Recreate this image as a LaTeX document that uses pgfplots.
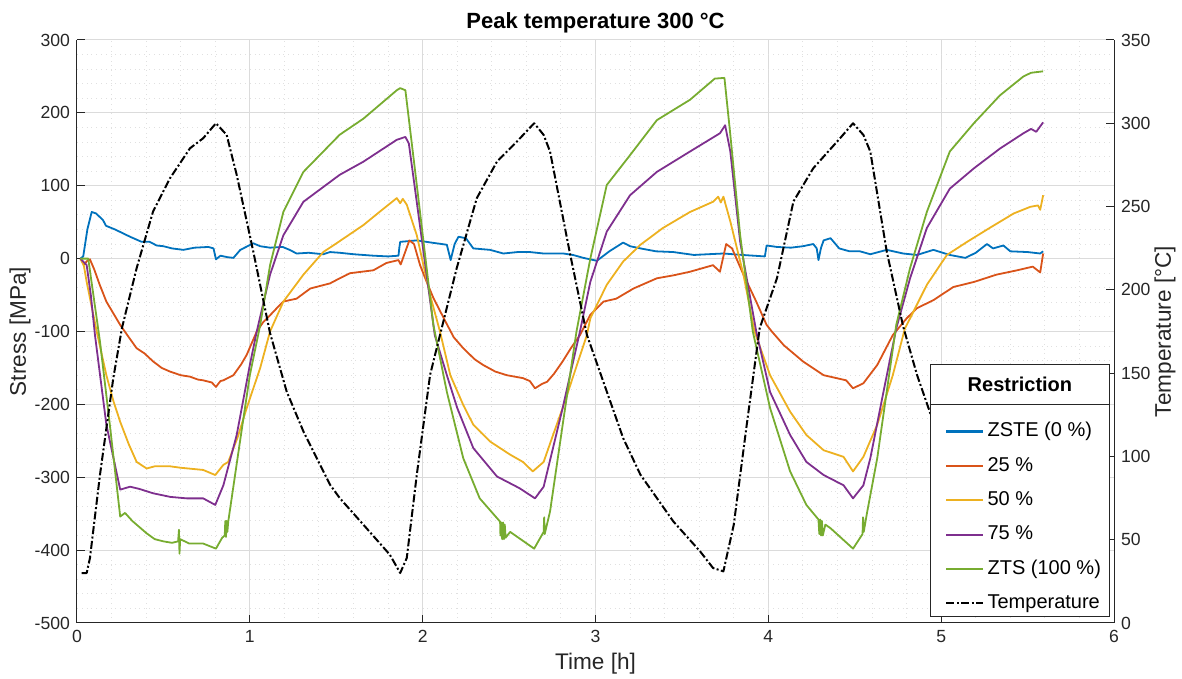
\documentclass[border=0pt]{standalone}
\usepackage{fontspec}
\setmainfont{Liberation Sans}
\usepackage{pgfplots}
\pgfplotsset{compat=1.18}
\usetikzlibrary{calc}

\definecolor{mBlue}{RGB}{0,114,189}
\definecolor{mOrange}{RGB}{217,83,25}
\definecolor{mYellow}{RGB}{237,177,32}
\definecolor{mPurple}{RGB}{126,47,142}
\definecolor{mGreen}{RGB}{119,172,48}
\definecolor{axgray}{RGB}{38,38,38}

\pgfplotsset{
  common/.style={
    scale only axis, width=518.5pt, height=291.5pt,
    xmin=0, xmax=6,
    tick align=inside, major tick length=4pt, minor tick length=0pt,
    tick style={draw=axgray, line width=0.5pt},
    axis line style={draw=axgray, line width=0.5pt},
    ticklabel style={font=\fontsize{8.8}{10}\selectfont, text=axgray},
    label style={font=\fontsize{11.3}{13}\selectfont, text=axgray},
    /pgf/number format/assume math mode=true,
    every axis plot/.append style={line join=round, line width=0.9pt},
  },
}

\begin{document}
\begin{tikzpicture}
\begin{axis}[
  common, name=main,
  ymin=-500, ymax=300,
  xtick={0,1,...,6}, ytick={-500,-400,...,300},
  minor x tick num=4, minor y tick num=4,
  grid=both,
  major grid style={draw=black!14, line width=0.5pt},
  minor grid style={draw=black!12, dotted, line width=0.5pt},
  axis x line*=bottom, axis y line*=left,
  xlabel={Time [h]}, ylabel={Stress [MPa]},
  xlabel style={at={(axis description cs:0.5,-0.0703)}, anchor=center},
  ylabel style={at={(axis description cs:-0.055,0.5)}, anchor=center},
  title={Peak temperature 300 °C},
  title style={font=\bfseries\fontsize{11}{13}\selectfont, at={(axis description cs:0.5,1.009)}, anchor=center},
]
% ZSTE (0 %)
\addplot[mBlue] coordinates {
(0.02,0) (0.036,3) (0.06,40) (0.085,64) (0.11,62) (0.15,53) (0.168,45) (0.22,40)
(0.307,30) (0.374,23) (0.42,23) (0.461,18) (0.5,17) (0.55,14) (0.615,12) (0.68,15)
(0.76,16) (0.79,14) (0.804,-1) (0.83,4) (0.87,2) (0.905,1) (0.945,12) (1.02,21)
(1.06,17) (1.117,15) (1.19,16) (1.23,12) (1.271,7) (1.34,8) (1.425,6) (1.464,9)
(1.52,8) (1.6,6) (1.715,4) (1.8,3) (1.86,4) (1.865,15) (1.87,23) (1.966,25)
(2.05,22) (2.14,19) (2.162,-2) (2.185,20) (2.207,30) (2.25,28) (2.293,14) (2.39,12)
(2.467,7) (2.55,9) (2.62,9) (2.7,7) (2.814,7) (2.87,5) (2.93,1) (3.008,-3)
(3.08,10) (3.16,22) (3.2,17) (3.26,14) (3.35,10) (3.45,9) (3.57,5) (3.65,6)
(3.74,7) (3.85,5) (3.98,3) (3.99,18) (4.05,16) (4.13,15) (4.2,17) (4.26,20)
(4.28,14) (4.29,-2) (4.305,15) (4.32,25) (4.36,28) (4.41,14) (4.47,10) (4.53,10)
(4.59,6) (4.685,12) (4.78,7) (4.86,5) (4.955,12) (5.05,5) (5.14,1) (5.2,8)
(5.265,20) (5.3,14) (5.36,18) (5.40,10) (5.5,9) (5.573,7) (5.59,10)
};
% 25 %
\addplot[mOrange] coordinates {
(0.02,0) (0.04,-8) (0.06,-3) (0.075,-1) (0.1,-15) (0.13,-35) (0.17,-59) (0.21,-75)
(0.25,-91) (0.3,-108) (0.345,-123) (0.39,-130) (0.44,-141) (0.49,-150) (0.538,-155)
(0.6,-160) (0.654,-162) (0.7,-166) (0.73,-167) (0.78,-170) (0.804,-176) (0.83,-168)
(0.847,-167) (0.905,-160) (0.95,-145) (0.982,-132) (1.04,-100) (1.078,-87) (1.12,-77)
(1.156,-68) (1.194,-59) (1.23,-57) (1.27,-55) (1.35,-41) (1.464,-34) (1.52,-27)
(1.58,-20) (1.715,-16) (1.79,-6) (1.86,-2) (1.873,-8) (1.923,25) (1.95,20)
(1.985,-9) (2.02,-30) (2.062,-54) (2.14,-90) (2.18,-108) (2.235,-123) (2.3,-138)
(2.35,-146) (2.42,-155) (2.487,-160) (2.58,-164) (2.62,-168) (2.65,-178) (2.69,-172)
(2.72,-169) (2.76,-158) (2.81,-141) (2.86,-122) (2.91,-105) (2.97,-77) (3.046,-59)
(3.12,-55) (3.22,-41) (3.355,-27) (3.45,-23) (3.547,-18) (3.68,-9) (3.72,-18)
(3.756,20) (3.79,14) (3.856,-22) (3.93,-59) (3.99,-91) (4.02,-100) (4.09,-119)
(4.2,-141) (4.32,-160) (4.45,-167) (4.49,-178) (4.55,-171) (4.63,-146) (4.72,-105)
(4.80,-82) (4.86,-68) (4.955,-57) (5.07,-39) (5.19,-32) (5.32,-22) (5.44,-16)
(5.53,-11) (5.573,-19) (5.59,7)
};
% 50 %
\addplot[mYellow] coordinates {
(0.02,0) (0.04,-10) (0.056,-32) (0.08,-60) (0.114,-100) (0.17,-160) (0.21,-195)
(0.25,-224) (0.3,-255) (0.345,-279) (0.403,-288) (0.45,-285) (0.538,-285) (0.6,-287)
(0.73,-290) (0.8,-297) (0.847,-283) (0.875,-279) (0.93,-245) (0.982,-205) (1.06,-150)
(1.117,-100) (1.194,-59) (1.31,-22) (1.425,9) (1.52,24) (1.657,46) (1.75,64)
(1.85,83) (1.87,76) (1.885,82) (1.908,74) (1.966,32) (2.043,-50) (2.1,-100)
(2.16,-160) (2.235,-201) (2.293,-228) (2.39,-251) (2.506,-269) (2.58,-279)
(2.637,-292) (2.70,-279) (2.75,-245) (2.81,-205) (2.95,-105) (2.97,-82) (3.065,-36)
(3.16,-4) (3.26,19) (3.39,42) (3.547,64) (3.68,78) (3.71,85) (3.725,77) (3.74,85)
(3.78,51) (3.856,-22) (3.92,-100) (4.01,-160) (4.126,-210) (4.22,-242) (4.32,-263)
(4.435,-272) (4.49,-292) (4.55,-272) (4.63,-228) (4.72,-160) (4.79,-96) (4.82,-82)
(4.917,-36) (5.033,5) (5.15,23) (5.28,42) (5.42,62) (5.515,71) (5.56,73) (5.573,67)
(5.59,87)
};
% 75 %
\addplot[mPurple] coordinates {
(0.02,0) (0.056,-9) (0.08,-50) (0.104,-105) (0.17,-228) (0.25,-317) (0.307,-313)
(0.36,-316) (0.44,-322) (0.54,-327) (0.635,-329) (0.73,-329) (0.80,-338) (0.847,-311)
(0.924,-242) (1.0,-146) (1.04,-100) (1.117,-22) (1.194,32) (1.31,78) (1.52,115)
(1.657,133) (1.85,163) (1.9,167) (1.92,158) (2.07,-105) (2.14,-160) (2.20,-205)
(2.293,-260) (2.43,-299) (2.56,-315) (2.65,-329) (2.70,-313) (2.81,-205) (2.91,-100)
(2.97,-32) (3.065,37) (3.2,87) (3.355,119) (3.547,147) (3.72,172) (3.75,183)
(3.78,147) (3.837,23) (3.93,-100) (4.01,-183) (4.126,-242) (4.22,-279) (4.32,-297)
(4.435,-311) (4.49,-329) (4.55,-311) (4.59,-274) (4.666,-183) (4.74,-96) (4.82,-27)
(4.917,42) (5.05,96) (5.19,124) (5.34,151) (5.476,172) (5.52,178) (5.55,174) (5.59,187)
};
% ZTS (100 %)
\addplot[mGreen] coordinates {
(0.02,0) (0.065,0) (0.133,-114) (0.19,-228) (0.25,-354) (0.278,-349) (0.32,-360)
(0.403,-377) (0.45,-385) (0.5,-388) (0.55,-390) (0.585,-388) (0.59,-372) (0.593,-405)
(0.597,-385) (0.65,-391) (0.73,-391) (0.804,-398) (0.84,-383) (0.855,-380) (0.858,-360)
(0.862,-382) (0.866,-360) (0.87,-375) (0.875,-361) (0.943,-251) (1.0,-160) (1.06,-91)
(1.117,-9) (1.194,64) (1.31,119) (1.52,170) (1.657,192) (1.85,231) (1.87,234)
(1.9,231) (1.966,101) (2.062,-91) (2.14,-183) (2.235,-274) (2.33,-329) (2.448,-361)
(2.45,-380) (2.455,-362) (2.46,-385) (2.465,-362) (2.47,-385) (2.475,-365) (2.48,-383)
(2.506,-375) (2.645,-398) (2.70,-375) (2.703,-355) (2.706,-378) (2.737,-347)
(2.81,-228) (2.89,-100) (2.97,0) (3.065,101) (3.2,142) (3.355,190) (3.547,218)
(3.69,247) (3.746,248) (3.78,170) (3.837,32) (3.91,-100) (4.01,-205) (4.126,-292)
(4.22,-338) (4.29,-358) (4.295,-378) (4.3,-358) (4.305,-380) (4.31,-360) (4.315,-380)
(4.33,-365) (4.36,-370) (4.49,-398) (4.545,-378) (4.548,-355) (4.552,-375) (4.57,-350)
(4.63,-274) (4.74,-91) (4.82,-13) (4.917,64) (5.05,147) (5.19,186) (5.34,224)
(5.476,250) (5.52,255) (5.59,257)
};
\end{axis}

\begin{axis}[
  common,
  ymin=0, ymax=350, ytick={0,50,...,350},
  axis x line=none, axis y line*=right,
  ylabel={Temperature [°C]},
  ylabel style={at={(axis description cs:1.0492,0.5)}, anchor=center},
  legend cell align=left,
  legend image code/.code={\draw[#1] (0pt,0pt) -- (18.5pt,0pt);},
  legend style={draw=none, fill=none, inner sep=0pt, row sep=7.5pt,
    at={(axis description cs:0.837,0.3459)}, anchor=north west,
    font=\fontsize{10}{12}\selectfont, text=black,
    nodes={inner sep=0pt, inner xsep=1.5pt, text height=7.5pt, text depth=2.2pt}},
]
\addlegendimage{draw=mBlue, solid, line width=1.1pt}
\addlegendentry{ZSTE (0 \%)}
\addlegendimage{draw=mOrange, solid, line width=1pt}
\addlegendentry{25 \%}
\addlegendimage{draw=mYellow, solid, line width=1pt}
\addlegendentry{50 \%}
\addlegendimage{draw=mPurple, solid, line width=1pt}
\addlegendentry{75 \%}
\addlegendimage{draw=mGreen, solid, line width=1pt}
\addlegendentry{ZTS (100 \%)}
\addplot[black, line width=1pt, dash pattern=on 4pt off 1.2pt on 1pt off 1.2pt] coordinates {
(0.027,30) (0.056,30) (0.075,39) (0.133,89) (0.21,147) (0.26,177) (0.345,213)
(0.44,247) (0.538,267) (0.654,285) (0.73,291) (0.804,300) (0.866,293) (0.924,269)
(1.02,223) (1.117,174) (1.213,139) (1.31,115) (1.406,95) (1.464,83) (1.52,75)
(1.657,59) (1.81,41) (1.87,30) (1.908,39) (1.966,89) (2.043,149) (2.11,177)
(2.197,213) (2.313,255) (2.43,277) (2.545,289) (2.645,300) (2.70,293) (2.737,283)
(2.85,223) (2.95,173) (3.065,139) (3.16,111) (3.26,89) (3.45,61) (3.605,43)
(3.68,33) (3.74,31) (3.8,59) (3.875,119) (3.95,177) (4.05,207) (4.145,253)
(4.26,273) (4.415,291) (4.49,300) (4.55,293) (4.59,283) (4.685,223) (4.78,178)
(4.86,149) (4.94,125) (4.96,121)
};
\addlegendentry{Temperature}
\draw[axgray, fill=white, line width=0.5pt] (rel axis cs:0.8226,0.0103) rectangle (rel axis cs:0.996,0.4425);
\draw[axgray, line width=0.5pt] (rel axis cs:0.8226,0.3756) -- (rel axis cs:0.996,0.3756);
\node[font=\bfseries\fontsize{10}{12}\selectfont] at (rel axis cs:0.9093,0.4088) {Restriction};
\end{axis}
\pgfresetboundingbox
\path ($(main.south west)+(-38.5pt,-28pt)$) rectangle ($(main.north east)+(34pt,20pt)$);
\end{tikzpicture}
\end{document}
